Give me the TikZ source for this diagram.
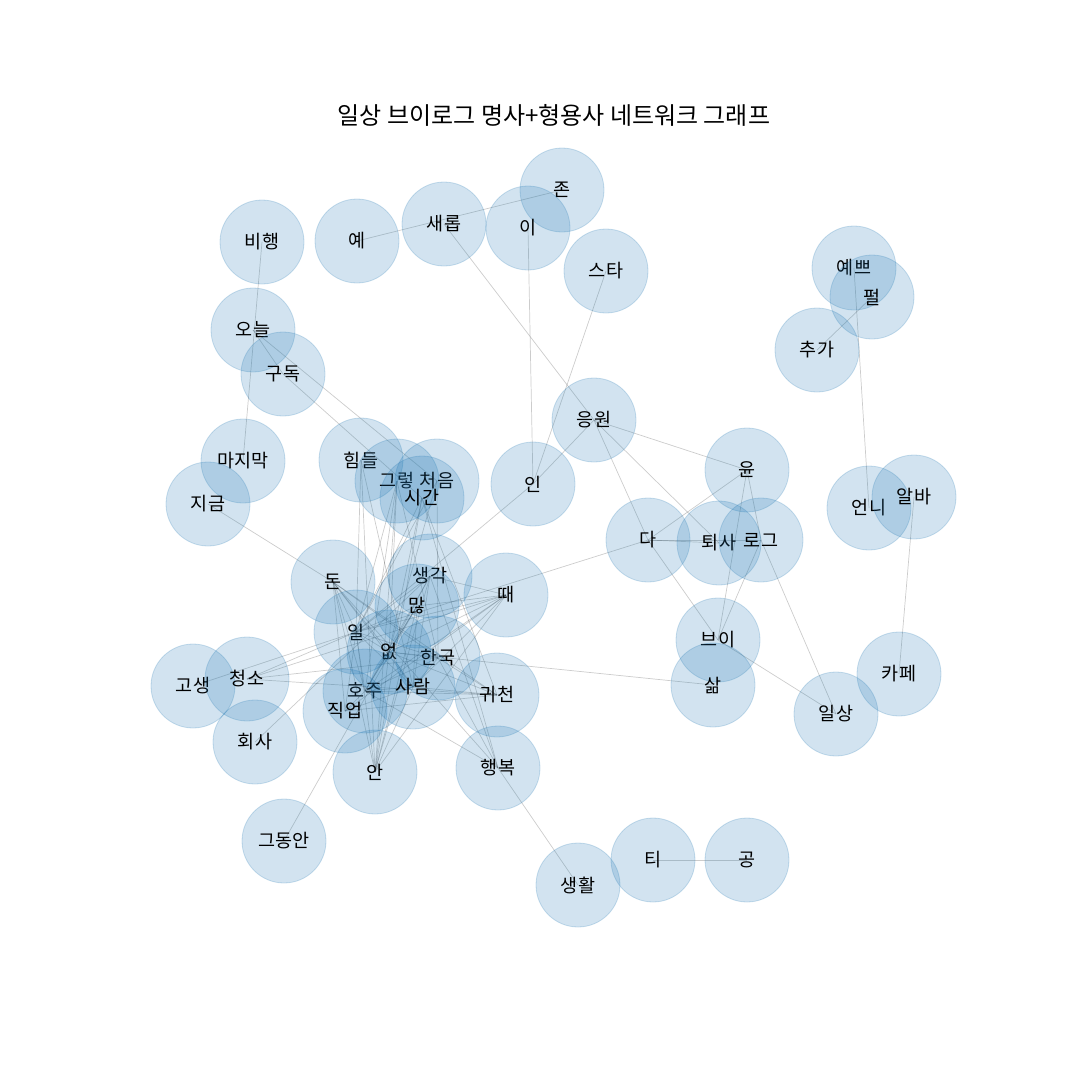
\documentclass[tikz,border=0pt]{standalone}
\usepackage{fontspec}
\newfontfamily\kr{Noto Sans CJK KR}
\pgfdeclarelayer{background}
\pgfsetlayers{background,main}
\definecolor{nodeblue}{RGB}{31,119,180}
\tikzset{
  word/.style={circle, minimum size=84pt, inner sep=0pt, fill=nodeblue, fill opacity=0.2,
    draw=nodeblue, draw opacity=0.22, line width=0.8pt, text opacity=1,
    font=\kr\fontsize{18.5}{20}\selectfont},
  link/.style={draw=black, draw opacity=0.2, line width=0.7pt}
}
\begin{document}
\begin{tikzpicture}[x=1pt,y=-1pt]

  % Fix the page to the full canvas
  \useasboundingbox (0,0) rectangle (1080,1080);

  % Title
  \node[font=\kr\fontsize{24}{28}\selectfont] (title) at (554,115) {일상 브이로그 명사+형용사 네트워크 그래프};

  % Upper words
  \node[word] (jon) at (562,190) {존};
  \node[word] (i) at (528,228) {이};
  \node[word] (saerop) at (444,224) {새롭};
  \node[word] (ye) at (357,241) {예};
  \node[word] (bihaeng) at (262,242) {비행};
  \node[word] (seuta) at (606,271) {스타};
  \node[word] (yeppeu) at (854,268) {예쁘};
  \node[word] (peol) at (872,297) {펄};
  \node[word] (chuga) at (817,350) {추가};
  \node[word] (oneul) at (253,330) {오늘};
  \node[word] (gudok) at (283,374) {구독};
  \node[word] (eungwon) at (594,420) {응원};

  % Middle band
  \node[word] (majimak) at (243,461) {마지막};
  \node[word] (himdeul) at (361,460) {힘들};
  \node[word] (geureoh) at (397,481) {그렇};
  \node[word] (cheoeum) at (437,481) {처음};
  \node[word] (sigan) at (422,498) {시간};
  \node[word] (ins) at (533,484) {인};
  \node[word] (yun) at (747,470) {윤};
  \node[word] (jigeum) at (208,504) {지금};
  \node[word] (eonni) at (869,508) {언니};
  \node[word] (alba) at (914,497) {알바};
  \node[word] (da) at (648,540) {다};
  \node[word] (toesa) at (719,543) {퇴사};
  \node[word] (rogeu) at (761,540) {로그};

  % Central cluster
  \node[word] (don) at (333,582) {돈};
  \node[word] (saenggak) at (430,576) {생각};
  \node[word] (ttae) at (506,595) {때};
  \node[word] (manh) at (417,606) {많};
  \node[word] (il) at (356,632) {일};
  \node[word] (eops) at (389,652) {없};
  \node[word] (hanguk) at (438,658) {한국};
  \node[word] (beui) at (718,640) {브이};
  \node[word] (gosaeng) at (193,686) {고생};
  \node[word] (cheongso) at (247,679) {청소};
  \node[word] (salm) at (713,685) {삶};
  \node[word] (hoju) at (365,691) {호주};
  \node[word] (saram) at (413,687) {사람};
  \node[word] (gwicheon) at (497,695) {귀천};
  \node[word] (kape) at (899,674) {카페};
  \node[word] (jigeop) at (345,711) {직업};
  \node[word] (ilsang) at (836,714) {일상};
  \node[word] (hoesa) at (255,742) {회사};
  \node[word] (an) at (375,772) {안};
  \node[word] (haengbok) at (498,768) {행복};

  % Lower words
  \node[word] (geudongan) at (284,841) {그동안};
  \node[word] (saenghwal) at (578,885) {생활};
  \node[word] (ti) at (653,860) {티};
  \node[word] (gong) at (747,860) {공};

  % Edges go under the circles
  \begin{pgfonlayer}{background}
    \fill[white] (0,0) rectangle (1080,1080);
    % outer links
    \foreach \a/\b in {ye/jon, saerop/eungwon, i/ins, seuta/ins, eungwon/yun, eungwon/da,
        eungwon/toesa, eungwon/ins, ins/il, bihaeng/majimak, oneul/gudok, oneul/cheoeum,
        gudok/sigan, jigeum/don, yun/da, yun/beui, yun/rogeu, da/toesa, da/rogeu, da/beui,
        rogeu/beui, rogeu/ilsang, beui/ilsang, il/da, yeppeu/eonni, peol/chuga, alba/kape,
        ti/gong, haengbok/saenghwal, geudongan/manh, hoesa/saenggak, eops/salm,
        gosaeng/il, cheongso/ttae, cheongso/hanguk, cheongso/gwicheon, cheongso/il}
      \draw[link] (\a.center) -- (\b.center);
    % central cluster
    \foreach \a/\b in {don/il, don/eops, don/hanguk, don/saram, don/hoju, don/gwicheon,
        don/haengbok, don/an, don/jigeop, ttae/il, ttae/eops, ttae/hoju, ttae/jigeop,
        ttae/an, ttae/saram, saenggak/il, saenggak/eops, saenggak/hoju, saenggak/saram,
        saenggak/ttae, saenggak/haengbok, saenggak/an, manh/il, manh/eops, manh/saram,
        manh/hoju, manh/an, manh/ttae, himdeul/il, himdeul/an, himdeul/saram,
        geureoh/il, geureoh/eops, geureoh/hoju, geureoh/an, geureoh/hanguk,
        sigan/il, sigan/eops, sigan/an, sigan/haengbok, sigan/gwicheon,
        cheoeum/il, cheoeum/eops, cheoeum/hanguk, il/eops, il/hanguk, il/saram, il/hoju,
        il/jigeop, il/an, eops/hanguk, eops/saram, eops/hoju, eops/an, eops/gwicheon,
        hanguk/saram, hanguk/hoju, hanguk/gwicheon, hanguk/haengbok, saram/hoju,
        saram/jigeop, saram/an, saram/gwicheon, hoju/jigeop, hoju/haengbok, hoju/gwicheon,
        jigeop/gwicheon}
      \draw[link] (\a.center) -- (\b.center);
  \end{pgfonlayer}

\end{tikzpicture}
\end{document}
